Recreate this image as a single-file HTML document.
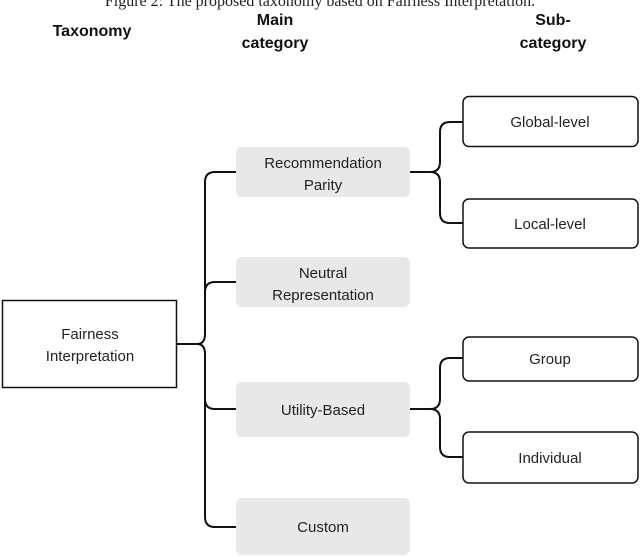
<!DOCTYPE html>
<html><head><meta charset="utf-8"><style>
html,body{margin:0;padding:0;background:#fff;}
svg{display:block;font-family:"Liberation Sans",Arial,sans-serif;}
</style></head><body>
<svg width="640" height="557" viewBox="0 0 640 557" xmlns="http://www.w3.org/2000/svg">
<text x="320" y="6" text-anchor="middle" font-family="Liberation Serif,serif" font-size="16" fill="#222">Figure 2: The proposed taxonomy based on Fairness Interpretation.</text>
<g font-weight="bold" font-size="16" fill="#111" text-anchor="middle">
<text x="92" y="36">Taxonomy</text>
<text x="275" y="25">Main</text>
<text x="275" y="48">category</text>
<text x="553" y="25">Sub-</text>
<text x="553" y="48">category</text>
</g>
<g fill="none" stroke="#111" stroke-width="2">
<path d="M177 344 H197 Q205 344 205 334 V182 Q205 172 215 172 H236"/>
<path d="M197 344 Q205 344 205 354 V517 Q205 527 215 527 H236"/>
<path d="M205 292 Q205 282 215 282 H236"/>
<path d="M205 399 Q205 409 215 409 H236"/>
<path d="M410 172 H430 Q440 172 440 162 V132 Q440 122 450 122 H463"/>
<path d="M430 172 Q440 172 440 182 V213 Q440 223 450 223 H463"/>
<path d="M410 409 H430 Q440 409 440 399 V368 Q440 358 450 358 H463"/>
<path d="M430 409 Q440 409 440 419 V447 Q440 457 450 457 H463"/>
</g>
<rect x="2.5" y="300.5" width="174" height="87" fill="#fff" stroke="#111" stroke-width="1.5"/>
<g fill="#e8e8e8">
<rect x="236" y="147" width="174" height="50" rx="6"/>
<rect x="236" y="257" width="174" height="50" rx="6"/>
<rect x="236" y="382" width="174" height="55" rx="6"/>
<rect x="236" y="498" width="174" height="57" rx="6"/>
</g>
<g fill="#fff" stroke="#111" stroke-width="1.5">
<rect x="463" y="96.5" width="175" height="50" rx="6"/>
<rect x="463" y="199" width="175" height="49" rx="6"/>
<rect x="463" y="337" width="175" height="44" rx="6"/>
<rect x="463" y="432" width="175" height="51" rx="6"/>
</g>
<g font-size="15" fill="#222" text-anchor="middle">
<text x="90" y="339">Fairness</text>
<text x="90" y="361">Interpretation</text>
<text x="323" y="168">Recommendation</text>
<text x="323" y="190">Parity</text>
<text x="323" y="278">Neutral</text>
<text x="323" y="300">Representation</text>
<text x="323" y="415">Utility-Based</text>
<text x="323" y="532">Custom</text>
<text x="550" y="127">Global-level</text>
<text x="550" y="229">Local-level</text>
<text x="550" y="364">Group</text>
<text x="550" y="463">Individual</text>
</g>
</svg>
</body></html>
